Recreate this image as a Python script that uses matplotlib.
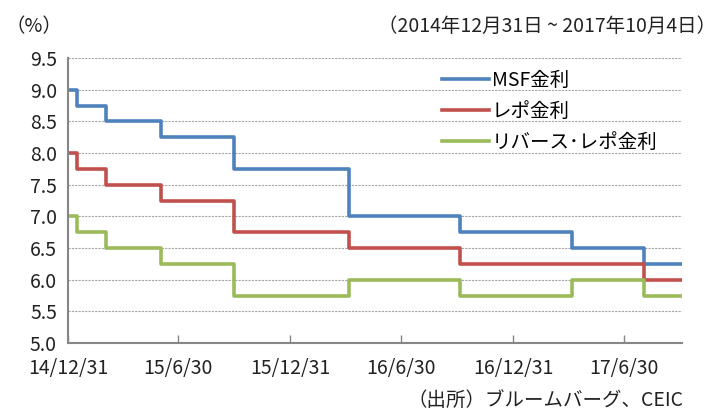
import pandas as pd
import matplotlib
matplotlib.use('Agg')
import matplotlib.pyplot as plt

plt.rcParams['font.family'] = ['Noto Sans CJK JP', 'DejaVu Sans']

# change dates of the policy rates (last entry = end of period)
dates = ['2014-12-31', '2015-01-15', '2015-03-04', '2015-06-02', '2015-09-29',
         '2016-04-05', '2016-10-04', '2017-04-06', '2017-08-02', '2017-10-04']
msf = [9.00, 8.75, 8.50, 8.25, 7.75, 7.00, 6.75, 6.50, 6.25, 6.25]
repo = [8.00, 7.75, 7.50, 7.25, 6.75, 6.50, 6.25, 6.25, 6.00, 6.00]
reverse_repo = [7.00, 6.75, 6.50, 6.25, 5.75, 6.00, 5.75, 6.00, 5.75, 5.75]
labels = ['MSF金利', 'レポ金利', 'リバース･レポ金利']
colors = ['#4F81BD', '#C0504D', '#9BBB59']
xticks = ['2014-12-31', '2015-06-30', '2015-12-31', '2016-06-30', '2016-12-31', '2017-06-30']
xticklabels = ['14/12/31', '15/6/30', '15/12/31', '16/6/30', '16/12/31', '17/6/30']
yticks = [5.0, 5.5, 6.0, 6.5, 7.0, 7.5, 8.0, 8.5, 9.0, 9.5]

x = pd.to_datetime(dates)

fig = plt.figure(figsize=(7.19, 4.09), dpi=100)
ax = fig.add_axes([0.0946, 0.1614, 0.854, 0.6966])

for vals, lab, c in zip([msf, repo, reverse_repo], labels, colors):
    ax.step(x, vals, where='post', color=c, lw=2.6, label=lab, solid_joinstyle='round')

ax.set_xlim(x[0], x[-1])
ax.set_ylim(5.0, 9.5)
ax.set_yticks(yticks)
ax.set_yticklabels([f'{v:.1f}' for v in yticks])
ax.set_xticks(pd.to_datetime(xticks))
ax.set_xticklabels(xticklabels)
ax.grid(axis='y', color='#A6A6A6', ls=(0, (2, 1)), lw=0.8)
ax.set_axisbelow(True)
for s in ['top', 'right']:
    ax.spines[s].set_visible(False)
for s in ['left', 'bottom']:
    ax.spines[s].set_color('#868686')
    ax.spines[s].set_linewidth(1.5)
ax.tick_params(axis='y', length=0, labelsize=14, pad=8, colors='#222222')
ax.tick_params(axis='x', direction='in', length=6, width=1, color='#868686',
               labelsize=14, pad=11, labelcolor='#222222')

leg = ax.legend(loc='upper left', bbox_to_anchor=(0.597, 0.985), frameon=False,
                fontsize=14, handlelength=2.4, handletextpad=0.15, labelspacing=0.5,
                borderaxespad=0)

fig.text(0.008, 0.935, '（%）', fontsize=14, ha='left', va='center', color='#222222')
fig.text(0.996, 0.935, '（2014年12月31日 ~ 2017年10月4日）', fontsize=14,
         ha='right', va='center', color='#222222')
fig.text(0.95, 0.022, '（出所）ブルームバーグ、CEIC', fontsize=14,
         ha='right', va='center', color='#222222')

fig.savefig('out.png', dpi=100)
